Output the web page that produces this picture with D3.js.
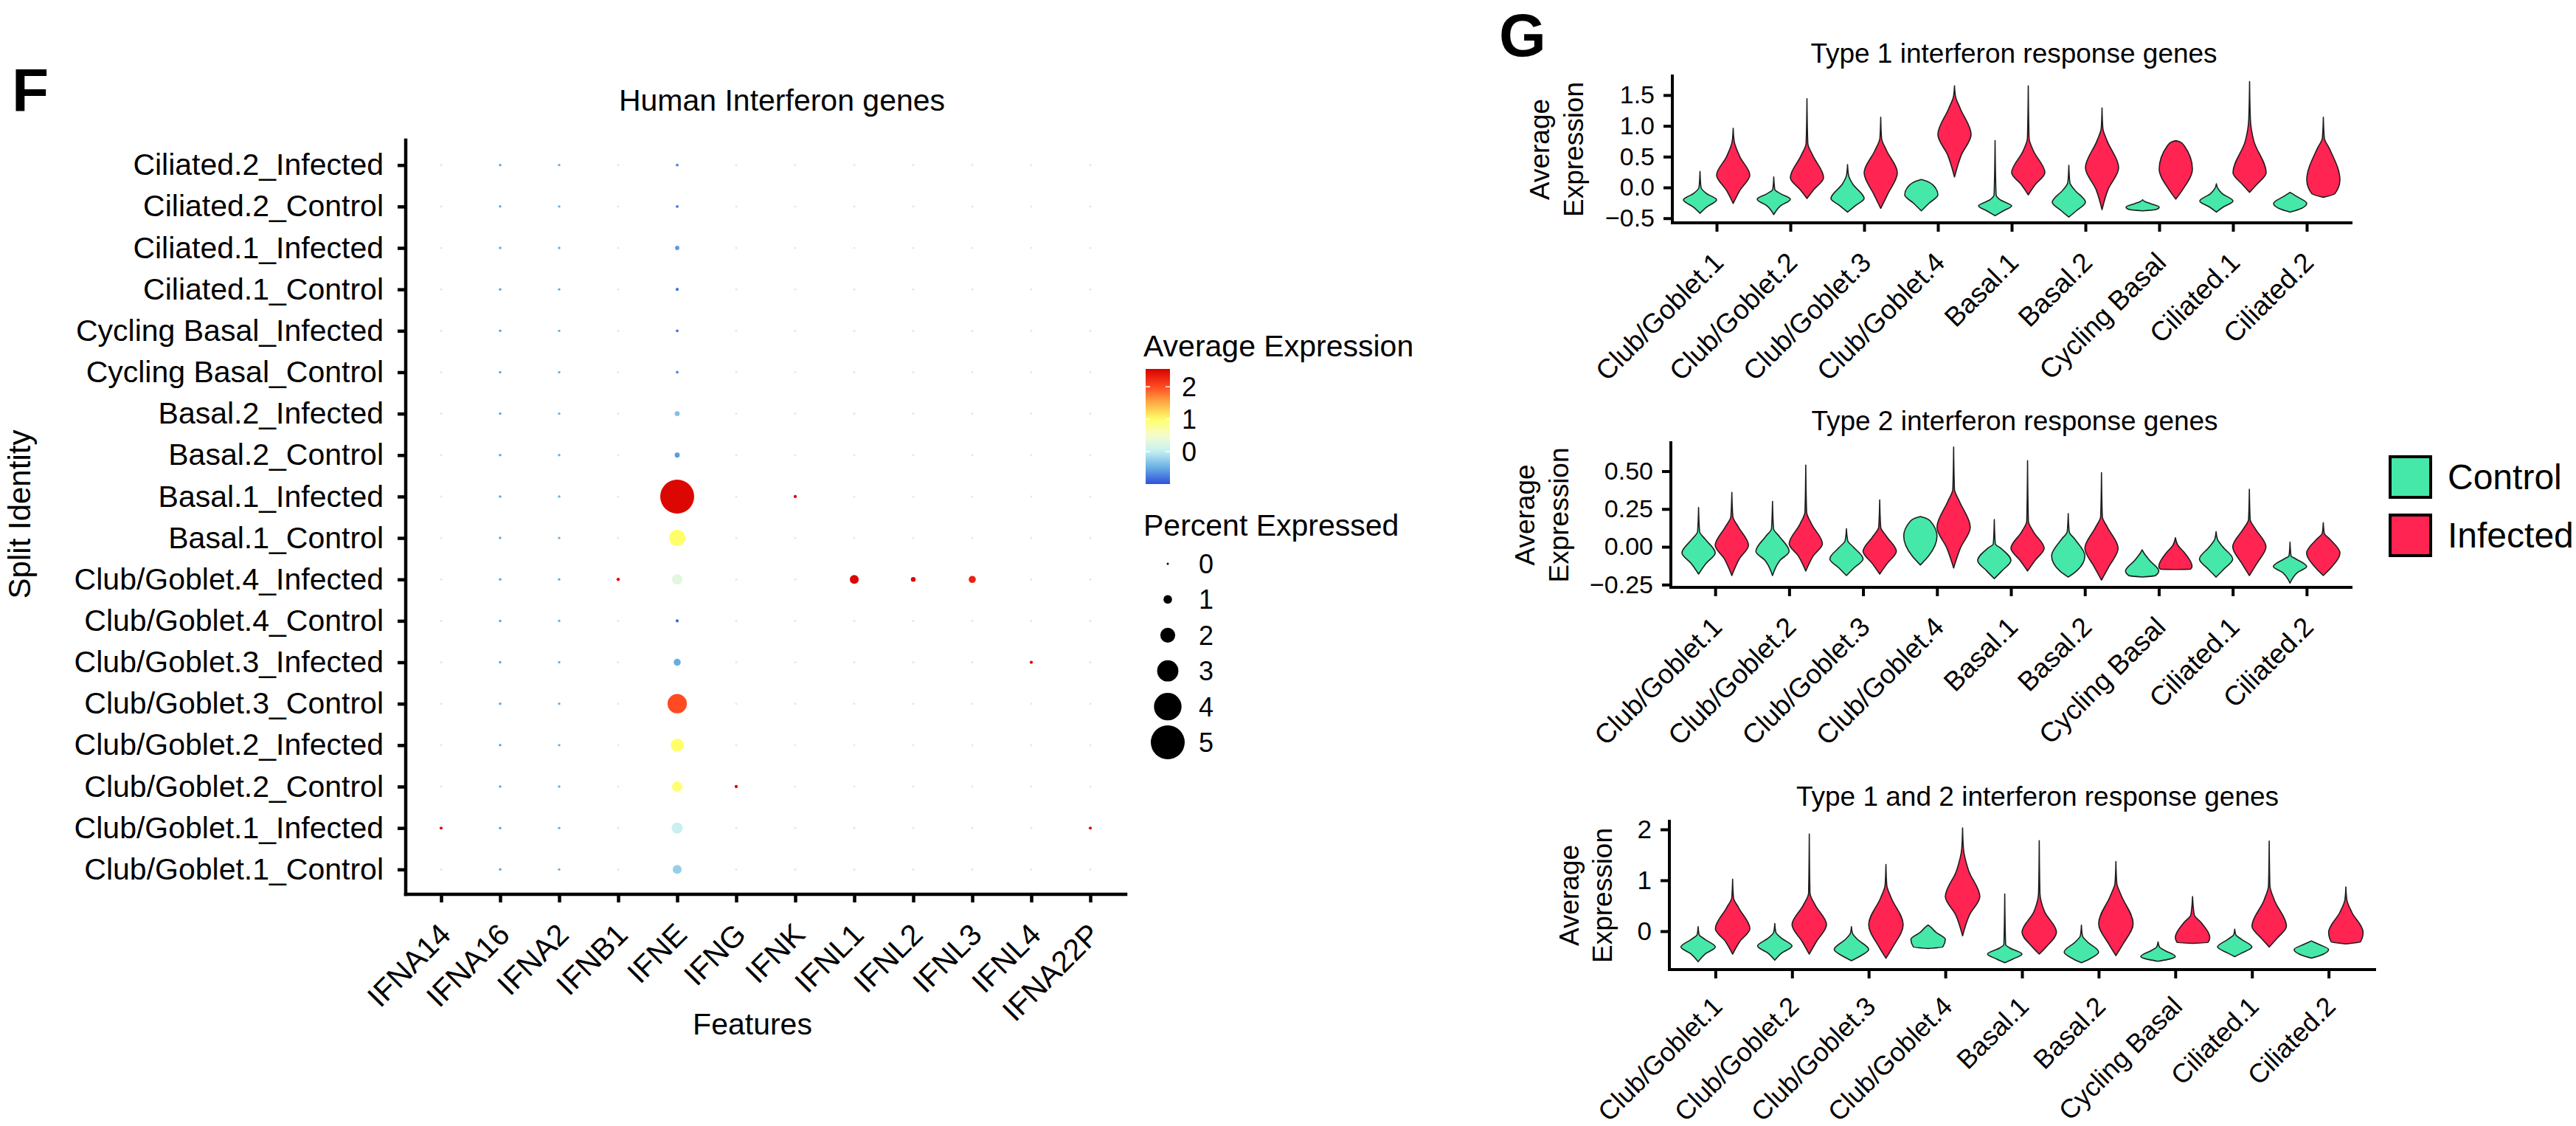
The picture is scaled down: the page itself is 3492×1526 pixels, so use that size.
<!DOCTYPE html>
<html><head><meta charset="utf-8">
<script src="https://cdn.jsdelivr.net/npm/d3@7"></script>
<style>
html,body{margin:0;padding:0;background:#fff;}
svg text{font-family:"Liberation Sans",Arial,Helvetica,sans-serif;fill:#000;}
</style></head><body>
<svg id="fig" width="3492" height="1526" xmlns="http://www.w3.org/2000/svg"></svg>
<script>
// ---------------- DATA ----------------
// Panel F (dot plot)
const identities = ["Ciliated.2_Infected","Ciliated.2_Control","Ciliated.1_Infected","Ciliated.1_Control",
  "Cycling Basal_Infected","Cycling Basal_Control","Basal.2_Infected","Basal.2_Control","Basal.1_Infected",
  "Basal.1_Control","Club/Goblet.4_Infected","Club/Goblet.4_Control","Club/Goblet.3_Infected",
  "Club/Goblet.3_Control","Club/Goblet.2_Infected","Club/Goblet.2_Control","Club/Goblet.1_Infected","Club/Goblet.1_Control"];
const features = ["IFNA14","IFNA16","IFNA2","IFNB1","IFNE","IFNG","IFNK","IFNL1","IFNL2","IFNL3","IFNL4","IFNA22P"];
// percent expressed, one row per feature, values in identity order
const pctExpressed = [
  [0,0,0,0,0,0,0,0,0,0,0,0,0,0,0,0,0.12,0],
  [0.06,0.06,0.06,0.06,0.06,0.06,0.06,0.06,0.06,0.06,0.06,0.06,0.06,0.06,0.06,0.06,0.06,0.06],
  [0.04,0.04,0.04,0.04,0.04,0.04,0.04,0.04,0.04,0.04,0.04,0.04,0.04,0.04,0.04,0.04,0.04,0.04],
  [0,0,0,0,0,0,0,0,0,0,0.15,0,0,0,0,0,0,0],
  [0.1,0.1,0.33,0.15,0.1,0.08,0.45,0.45,5.0,2.2,1.3,0.12,0.75,2.7,1.7,1.3,1.4,1.05],
  [0,0,0,0,0,0,0,0,0,0,0,0,0,0,0,0.15,0,0],
  [0,0,0,0,0,0,0,0,0.15,0,0,0,0,0,0,0,0,0],
  [0,0,0,0,0,0,0,0,0,0,1.05,0,0,0,0,0,0,0],
  [0,0,0,0,0,0,0,0,0,0,0.4,0,0,0,0,0,0,0],
  [0,0,0,0,0,0,0,0,0,0,0.77,0,0,0,0,0,0,0],
  [0,0,0,0,0,0,0,0,0,0,0,0,0.15,0,0,0,0,0],
  [0,0,0,0,0,0,0,0,0,0,0,0,0,0,0,0,0.12,0]
];
// average (scaled) expression, one row per feature, values in identity order
const avgExpression = [
  [0.1,0.1,0.1,0.1,0.1,0.1,0.1,0.1,0.1,0.1,0.1,0.1,0.1,0.1,0.1,0.1,2.5,0.1],
  [-0.55,-0.55,-0.55,-0.55,-0.55,-0.55,-0.55,-0.55,-0.55,-0.55,-0.55,-0.55,-0.55,-0.55,-0.55,-0.55,-0.55,-0.55],
  [-0.5,-0.5,-0.5,-0.5,-0.5,-0.5,-0.5,-0.5,-0.5,-0.5,-0.5,-0.5,-0.5,-0.5,-0.5,-0.5,-0.5,-0.5],
  [0.1,0.1,0.1,0.1,0.1,0.1,0.1,0.1,0.1,0.1,2.5,0.1,0.1,0.1,0.1,0.1,0.1,0.1],
  [-0.7,-0.8,-0.6,-0.8,-0.8,-0.7,-0.35,-0.6,2.5,1.0,0.3,-0.9,-0.5,2.0,1.0,0.95,0.05,-0.25],
  [0.1,0.1,0.1,0.1,0.1,0.1,0.1,0.1,0.1,0.1,0.1,0.1,0.1,0.1,0.1,2.5,0.1,0.1],
  [0.1,0.1,0.1,0.1,0.1,0.1,0.1,0.1,2.5,0.1,0.1,0.1,0.1,0.1,0.1,0.1,0.1,0.1],
  [0.1,0.1,0.1,0.1,0.1,0.1,0.1,0.1,0.1,0.1,2.5,0.1,0.1,0.1,0.1,0.1,0.1,0.1],
  [0.1,0.1,0.1,0.1,0.1,0.1,0.1,0.1,0.1,0.1,2.5,0.1,0.1,0.1,0.1,0.1,0.1,0.1],
  [0.1,0.1,0.1,0.1,0.1,0.1,0.1,0.1,0.1,0.1,2.3,0.1,0.1,0.1,0.1,0.1,0.1,0.1],
  [0.1,0.1,0.1,0.1,0.1,0.1,0.1,0.1,0.1,0.1,0.1,0.1,2.5,0.1,0.1,0.1,0.1,0.1],
  [0.1,0.1,0.1,0.1,0.1,0.1,0.1,0.1,0.1,0.1,0.1,0.1,0.1,0.1,0.1,0.1,2.5,0.1]
];
const colorStops  = [-1.0, -0.5, 0, 0.5, 1.0, 1.5, 2.0, 2.55];
const colorValues = ["#3050dd","#66aee2","#c4eff2","#f6fcd0","#ffff6a","#ffae45","#ff4a22","#d80000"];
const colorDomain = [-1.0, 2.55];
const colorTicks = [0, 1, 2];
const sizeTicks = [0, 1, 2, 3, 4, 5];

// Panel G (violins) -- each violin: [min, lowerBody, mode, upperBody, tailStart, max, wLower, wUpper, wTail]
const cellTypes = ["Club/Goblet.1","Club/Goblet.2","Club/Goblet.3","Club/Goblet.4","Basal.1","Basal.2","Cycling Basal","Ciliated.1","Ciliated.2"];
const groups = ["Control","Infected"];
const groupColors = ["#45E8A8","#FF2452"];

const type1Control = [
  [-0.42,-0.32,-0.20,-0.10,0.00,0.26,0.4,0.4,0.06],
  [-0.44,-0.30,-0.19,-0.10,-0.03,0.17,0.4,0.4,0.06],
  [-0.40,-0.30,-0.18,0.06,0.20,0.37,0.45,0.3,0.06],
  [-0.38,-0.26,-0.12,0.04,0.10,0.13,0.45,0.7,0.35],
  [-0.46,-0.38,-0.30,-0.20,-0.12,0.76,0.5,0.3,0.06],
  [-0.48,-0.38,-0.24,-0.04,0.08,0.36,0.45,0.35,0.06],
  [-0.38,-0.36,-0.32,-0.26,-0.23,-0.20,0.8,0.45,0.15],
  [-0.40,-0.32,-0.22,-0.10,0.00,0.06,0.4,0.35,0.06],
  [-0.40,-0.36,-0.26,-0.14,-0.10,-0.08,0.5,0.35,0.12]
];
const type1Infected = [
  [-0.26,-0.05,0.20,0.50,0.75,0.96,0.4,0.4,0.06],
  [-0.18,-0.04,0.16,0.52,0.72,1.44,0.4,0.35,0.05],
  [-0.34,-0.12,0.24,0.60,0.80,1.14,0.4,0.35,0.05],
  [0.17,0.52,0.86,1.28,1.48,1.65,0.4,0.35,0.06],
  [-0.12,0.04,0.24,0.60,0.80,1.65,0.4,0.3,0.05],
  [-0.36,-0.04,0.32,0.76,0.96,1.29,0.35,0.3,0.05],
  [-0.19,-0.04,0.30,0.68,0.74,0.76,0.4,0.5,0.25],
  [-0.08,0.04,0.24,0.76,1.10,1.72,0.4,0.25,0.05],
  [-0.16,-0.10,0.12,0.64,0.80,1.14,0.7,0.35,0.06]
];
const type2Control = [
  [-0.18,-0.11,-0.04,0.05,0.10,0.26,0.45,0.4,0.06],
  [-0.19,-0.09,-0.03,0.07,0.12,0.30,0.45,0.4,0.06],
  [-0.19,-0.14,-0.08,0.00,0.04,0.12,0.45,0.4,0.08],
  [-0.12,-0.06,0.07,0.17,0.19,0.20,0.5,0.6,0.3],
  [-0.21,-0.16,-0.09,-0.01,0.02,0.18,0.45,0.4,0.06],
  [-0.20,-0.16,-0.06,0.05,0.10,0.22,0.5,0.4,0.06],
  [-0.20,-0.19,-0.16,-0.09,-0.04,-0.02,0.8,0.45,0.1],
  [-0.20,-0.15,-0.08,0.00,0.05,0.10,0.45,0.4,0.08],
  [-0.24,-0.17,-0.13,-0.08,-0.06,0.03,0.45,0.35,0.06]
];
const type2Infected = [
  [-0.19,-0.08,0.01,0.13,0.20,0.36,0.45,0.4,0.06],
  [-0.16,-0.06,0.02,0.15,0.23,0.54,0.45,0.35,0.05],
  [-0.18,-0.11,-0.03,0.07,0.13,0.31,0.45,0.4,0.06],
  [-0.14,-0.01,0.13,0.30,0.38,0.66,0.4,0.35,0.05],
  [-0.16,-0.09,-0.01,0.10,0.17,0.57,0.45,0.35,0.05],
  [-0.22,-0.13,-0.01,0.13,0.20,0.49,0.45,0.35,0.05],
  [-0.15,-0.148,-0.13,-0.04,0.01,0.06,0.9,0.55,0.15],
  [-0.19,-0.11,0.00,0.12,0.18,0.38,0.45,0.35,0.05],
  [-0.19,-0.14,-0.04,0.05,0.09,0.16,0.45,0.4,0.06]
];
const type12Control = [
  [-0.60,-0.45,-0.31,-0.16,-0.07,0.09,0.4,0.4,0.06],
  [-0.57,-0.43,-0.29,-0.14,-0.02,0.15,0.4,0.4,0.06],
  [-0.58,-0.50,-0.36,-0.16,-0.04,0.09,0.45,0.35,0.06],
  [-0.34,-0.31,-0.16,-0.02,0.08,0.12,0.85,0.45,0.15],
  [-0.62,-0.55,-0.45,-0.33,-0.26,0.73,0.45,0.3,0.05],
  [-0.62,-0.55,-0.41,-0.21,-0.09,0.12,0.45,0.35,0.06],
  [-0.59,-0.56,-0.50,-0.38,-0.31,-0.21,0.5,0.4,0.08],
  [-0.50,-0.43,-0.31,-0.16,-0.07,0.04,0.4,0.4,0.06],
  [-0.53,-0.48,-0.36,-0.26,-0.21,-0.19,0.5,0.45,0.12]
];
const type12Infected = [
  [-0.45,-0.21,0.05,0.46,0.66,1.02,0.4,0.35,0.05],
  [-0.45,-0.21,0.13,0.51,0.75,1.91,0.4,0.35,0.04],
  [-0.53,-0.31,0.13,0.66,0.90,1.31,0.4,0.3,0.05],
  [-0.09,0.32,0.68,1.19,1.62,2.03,0.4,0.35,0.05],
  [-0.45,-0.31,-0.02,0.39,0.75,1.78,0.4,0.3,0.04],
  [-0.48,-0.26,0.15,0.71,0.95,1.37,0.4,0.3,0.05],
  [-0.24,-0.22,-0.12,0.17,0.32,0.68,0.9,0.5,0.1],
  [-0.31,-0.16,0.10,0.61,0.90,1.77,0.4,0.3,0.04],
  [-0.25,-0.21,-0.02,0.37,0.61,0.87,0.85,0.35,0.06]
];
const type1Ticks = [-0.5, 0, 0.5, 1.0, 1.5];
const type2Ticks = [-0.25, 0, 0.25, 0.5];
const type12Ticks = [0, 1, 2];

// ---------------- LAYOUT / RENDER ----------------
const svg = d3.select("#fig");
const FONT = '"Liberation Sans", Arial, Helvetica, sans-serif';

// panel letters
svg.append("text").attr("x",16).attr("y",151).attr("font-size",82).attr("font-weight","bold").text("F");
svg.append("text").attr("x",2032).attr("y",76).attr("font-size",82).attr("font-weight","bold").text("G");

// ---- Panel F ----
const F = {left:550, right:1526, top:190, bottom:1212};
const xF = d3.scalePoint().domain(features).range([F.left, F.right]).padding(0.6);
const yF = d3.scalePoint().domain(identities).range([F.top, F.bottom]).padding(0.6);
const color = d3.scaleLinear().domain(colorStops).range(colorValues).clamp(true);
const rScale = d3.scaleLinear().domain([0, 5]).range([1.5, 23]);

const gF = svg.append("g");
features.forEach((f, fi) => {
  identities.forEach((id, ii) => {
    gF.append("circle")
      .attr("cx", xF(f)).attr("cy", yF(id))
      .attr("r", rScale(pctExpressed[fi][ii]))
      .attr("fill", color(avgExpression[fi][ii]));
  });
});

function styleAxis(g, lw){
  g.select(".domain").attr("stroke","#000").attr("stroke-width",lw).attr("stroke-linecap","square");
  g.selectAll(".tick line").attr("stroke","#000").attr("stroke-width",lw);
}
const axYF = svg.append("g").attr("transform",`translate(${F.left},0)`)
  .call(d3.axisLeft(yF).tickSize(11).tickSizeOuter(0).tickPadding(19));
styleAxis(axYF, 4.5);
axYF.selectAll(".tick text").attr("font-size",41).attr("font-family",FONT).attr("fill","#000");

const axXF = svg.append("g").attr("transform",`translate(0,${F.bottom})`)
  .call(d3.axisBottom(xF).tickSize(11).tickSizeOuter(0));
styleAxis(axXF, 4.5);
axXF.selectAll(".tick text")
  .attr("font-size",41).attr("font-family",FONT).attr("fill","#000")
  .attr("text-anchor","end").attr("x",0).attr("y",0).attr("dy",0)
  .attr("transform","translate(15,57) rotate(-45)");
axYF.select(".domain").attr("d",`M0,${F.top}V${F.bottom}`);
axXF.select(".domain").attr("d",`M${F.left},0H${F.right}`);

svg.append("text").attr("x",1060).attr("y",150).attr("text-anchor","middle").attr("font-size",41).text("Human Interferon genes");
svg.append("text").attr("x",1020).attr("y",1402).attr("text-anchor","middle").attr("font-size",41).text("Features");
svg.append("text").attr("transform","translate(41,697) rotate(-90)").attr("text-anchor","middle").attr("font-size",42).text("Split Identity");

// ---- Legend F ----
svg.append("text").attr("x",1550).attr("y",483).attr("font-size",41).text("Average Expression");
const cb = {x:1553, w:33, top:500, bottom:656};
const cbScale = d3.scaleLinear().domain(colorDomain).range([cb.bottom, cb.top]);
const defs = svg.append("defs");
const grad = defs.append("linearGradient").attr("id","cbgrad").attr("x1",0).attr("y1",1).attr("x2",0).attr("y2",0);
d3.range(0, 1.0001, 0.05).forEach(t => {
  const v = colorDomain[0] + t*(colorDomain[1]-colorDomain[0]);
  grad.append("stop").attr("offset", t).attr("stop-color", color(v));
});
svg.append("rect").attr("x",cb.x).attr("y",cb.top).attr("width",cb.w).attr("height",cb.bottom-cb.top).attr("fill","url(#cbgrad)");
colorTicks.forEach(v => {
  svg.append("line").attr("x1",cb.x).attr("x2",cb.x+6).attr("y1",cbScale(v)).attr("y2",cbScale(v)).attr("stroke","#fff").attr("stroke-width",1.5);
  svg.append("line").attr("x1",cb.x+cb.w-6).attr("x2",cb.x+cb.w).attr("y1",cbScale(v)).attr("y2",cbScale(v)).attr("stroke","#fff").attr("stroke-width",1.5);
  svg.append("text").attr("x",1602).attr("y",cbScale(v)).attr("dy","0.36em").attr("font-size",36).text(v);
});
svg.append("text").attr("x",1550).attr("y",726).attr("font-size",41).text("Percent Expressed");
const sizeKeyY = d3.scalePoint().domain(sizeTicks).range([764, 1006]);
sizeTicks.forEach(v => {
  svg.append("circle").attr("cx",1583).attr("cy",sizeKeyY(v)).attr("r",rScale(v)).attr("fill","#000");
  svg.append("text").attr("x",1625).attr("y",sizeKeyY(v)).attr("dy","0.36em").attr("font-size",36).text(v);
});

// ---- Panel G violins ----
const violinPanels = [
  {title:"Type 1 interferon response genes", ctrl:type1Control, inf:type1Infected, ticks:type1Ticks, fmt:".1f",
   box:{left:2267,right:3187,top:103,bottom:302}, domain:[-0.575,1.81], titleX:2730, titleY:85, yTitleX:[2100,2146], tickFont:34, labFont:37, labOff:56},
  {title:"Type 2 interferon response genes", ctrl:type2Control, inf:type2Infected, ticks:type2Ticks, fmt:".2f",
   box:{left:2265,right:3187,top:600,bottom:796}, domain:[-0.268,0.688], titleX:2731, titleY:583, yTitleX:[2080,2126], tickFont:34, labFont:37, labOff:56},
  {title:"Type 1 and 2 interferon response genes", ctrl:type12Control, inf:type12Infected, ticks:type12Ticks, fmt:"d",
   box:{left:2263,right:3219,top:1113,bottom:1314}, domain:[-0.754,2.16], titleX:2762, titleY:1092, yTitleX:[2140,2185], tickFont:35, labFont:36, labOff:52}
];

function violinPath(spec, cx, halfW, y){
  const [mn, lo, md, up, tl, mx, wl, wu, wt] = spec;
  const pts = [[mx,0],[tl,wt],[up,wu],[md,1],[lo,wl],[mn,0]];
  return d3.area()
    .y(p => y(p[0]))
    .x0(p => cx - p[1]*halfW)
    .x1(p => cx + p[1]*halfW)
    .curve(d3.curveMonotoneY)(pts);
}

violinPanels.forEach(P => {
  const b = P.box;
  const x = d3.scalePoint().domain(cellTypes).range([b.left, b.right]).padding(0.6);
  const y = d3.scaleLinear().domain(P.domain).range([b.bottom, b.top]);
  const step = x.step();
  const dodge = d3.scaleBand().domain(groups).range([-0.45*step, 0.45*step]);
  const halfW = dodge.bandwidth()/2;
  const g = svg.append("g");
  [P.ctrl, P.inf].forEach((series, gi) => {
    series.forEach((spec, ci) => {
      const cx = x(cellTypes[ci]) + dodge(groups[gi]) + halfW;
      g.append("path").attr("d", violinPath(spec, cx, halfW, y))
        .attr("fill", groupColors[gi]).attr("stroke","#1e1e1e").attr("stroke-width",1.6).attr("stroke-linejoin","round");
    });
  });
  const ay = svg.append("g").attr("transform",`translate(${b.left},0)`)
    .call(d3.axisLeft(y).tickValues(P.ticks).tickFormat(d3.format(P.fmt)).tickSize(12).tickSizeOuter(0).tickPadding(12));
  styleAxis(ay, 4);
  ay.select(".domain").attr("d",`M0,${b.top}V${b.bottom}`);
  ay.selectAll(".tick text").attr("font-size",P.tickFont).attr("font-family",FONT).attr("fill","#000");
  const ax = svg.append("g").attr("transform",`translate(0,${b.bottom})`)
    .call(d3.axisBottom(x).tickSize(12).tickSizeOuter(0));
  styleAxis(ax, 4);
  ax.select(".domain").attr("d",`M${b.left},0H${b.right}`);
  ax.selectAll(".tick text").attr("font-size",P.labFont).attr("font-family",FONT).attr("fill","#000")
    .attr("text-anchor","end").attr("x",0).attr("y",0).attr("dy",0)
    .attr("transform",`translate(11,${P.labOff}) rotate(-45)`);
  svg.append("text").attr("x",P.titleX).attr("y",P.titleY).attr("text-anchor","middle").attr("font-size",37).text(P.title);
  const cy = (b.top + b.bottom)/2;
  svg.append("text").attr("transform",`translate(${P.yTitleX[0]},${cy}) rotate(-90)`).attr("text-anchor","middle").attr("font-size",37).text("Average");
  svg.append("text").attr("transform",`translate(${P.yTitleX[1]},${cy}) rotate(-90)`).attr("text-anchor","middle").attr("font-size",37).text("Expression");
});

// ---- Legend G ----
groups.forEach((gname, i) => {
  const top = 619 + i*79;
  svg.append("rect").attr("x",3240).attr("y",top).attr("width",55).attr("height",55)
    .attr("fill",groupColors[i]).attr("stroke","#000").attr("stroke-width",4);
  svg.append("text").attr("x",3318).attr("y",top+44).attr("font-size",48).text(gname);
});
</script>
</body></html>
